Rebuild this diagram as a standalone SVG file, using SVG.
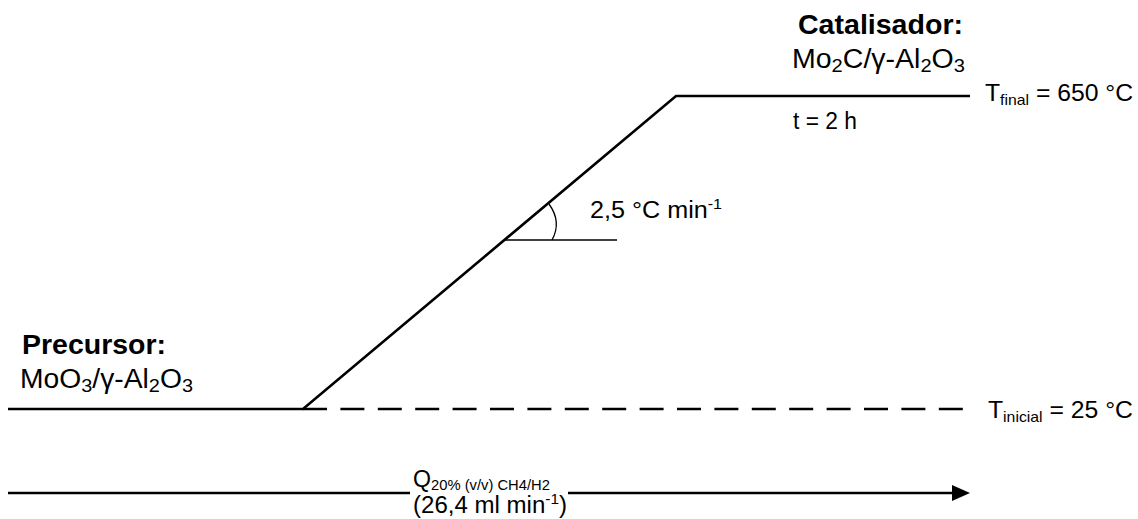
<svg xmlns="http://www.w3.org/2000/svg" width="1138" height="519" viewBox="0 0 1138 519">
<style>
text{font-family:"Liberation Sans",Arial,sans-serif;fill:#000}
.b{font-weight:bold;font-size:27px}
.f{font-size:27px}
.m{font-size:23.5px}
.s{font-size:19px}
.ss{font-size:15px}
.ln{stroke:#000;stroke-width:2.6;fill:none}
.th{stroke:#000;stroke-width:1.3;fill:none}
</style>
<rect width="1138" height="519" fill="#fff"/>
<g id="connectors">
<path class="ln" d="M8,409 H303 L676,96 H970"/>
<path class="ln" d="M303,409 H963" stroke-dasharray="24 13.4"/>
<path class="th" d="M505,240 H617"/>
<path class="th" d="M549,204 Q562,222 552,240"/>
<path class="ln" d="M8,493 H410 M568,493 H954"/>
<polygon points="952,485 970,493 952,501" fill="#000"/>
</g>
<g id="catalisador">
<text class="b" x="798" y="34" textLength="165" lengthAdjust="spacingAndGlyphs">Catalisador:</text>
<text class="f" x="792" y="68" textLength="173" lengthAdjust="spacingAndGlyphs">Mo<tspan class="s" dy="4">2</tspan><tspan dy="-4">C/γ-Al</tspan><tspan class="s" dy="4">2</tspan><tspan dy="-4">O</tspan><tspan class="s" dy="4">3</tspan></text>
</g>
<g id="tfinal">
<text class="m" x="985" y="101" textLength="148" lengthAdjust="spacingAndGlyphs">T<tspan class="ss" dy="4">final</tspan><tspan dy="-4"> = 650 °C</tspan></text>
</g>
<g id="tempo">
<text class="m" x="793" y="129" textLength="64" lengthAdjust="spacingAndGlyphs">t = 2 h</text>
</g>
<g id="rampa">
<text class="m" x="590" y="218" textLength="132" lengthAdjust="spacingAndGlyphs">2,5 °C min<tspan class="ss" dy="-9">-1</tspan></text>
</g>
<g id="precursor">
<text class="b" x="22" y="354" textLength="144" lengthAdjust="spacingAndGlyphs">Precursor:</text>
<text class="f" x="20" y="388" textLength="173" lengthAdjust="spacingAndGlyphs">MoO<tspan class="s" dy="4">3</tspan><tspan dy="-4">/γ-Al</tspan><tspan class="s" dy="4">2</tspan><tspan dy="-4">O</tspan><tspan class="s" dy="4">3</tspan></text>
</g>
<g id="tinicial">
<text class="m" x="988" y="418" textLength="145" lengthAdjust="spacingAndGlyphs">T<tspan class="ss" dy="4">inicial</tspan><tspan dy="-4"> = 25 °C</tspan></text>
</g>
<g id="fluxo">
<text class="m" x="413" y="487" textLength="137" lengthAdjust="spacingAndGlyphs">Q<tspan class="ss" dy="3">20% (v/v) CH4/H2</tspan></text>
<text class="m" x="413" y="513" textLength="154" lengthAdjust="spacingAndGlyphs">(26,4 ml min<tspan class="ss" dy="-9">-1</tspan><tspan dy="9">)</tspan></text>
</g>
</svg>
